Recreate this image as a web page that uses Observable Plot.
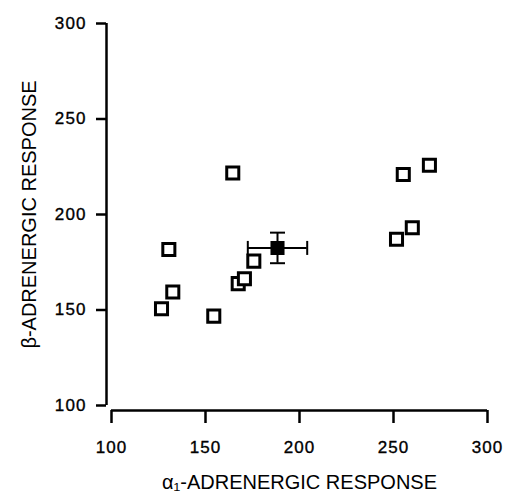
<!DOCTYPE html>
<html>
<head>
<meta charset="utf-8">
<script src="https://cdn.jsdelivr.net/npm/d3@7"></script>
<script src="https://cdn.jsdelivr.net/npm/@observablehq/plot@0.6"></script>
<style>
  html, body { margin: 0; padding: 0; background: #fff; }
  svg [aria-label$="tick label"] text { letter-spacing: 1.1px; stroke: #000; stroke-width: 0.35px; }
  svg [aria-label="axis title"] text { letter-spacing: 0.6px; stroke: #000; stroke-width: 0.35px; }
</style>
</head>
<body>
<div id="chart"></div>
<script>
// Individual subjects (open squares)
const alphaResponse = [164.5, 130.5, 175.7, 167.4, 170.7, 126.6, 132.6, 154.4, 255.2, 269.1, 260.0, 251.6];
const betaResponse  = [221.7, 181.7, 175.6, 163.8, 166.4, 150.7, 159.4, 146.8, 220.9, 225.8, 193.1, 187.0];

// Group mean ± SEM (filled square)
const meanAlpha = [188.3];
const meanBeta  = [182.5];
const semAlpha  = [15.8];
const semBeta   = [8.0];

// Axes
const xTicks = [100, 150, 200, 250, 300];
const yTicks = [100, 150, 200, 250, 300];
const xTitle = ["α₁-ADRENERGIC RESPONSE"];
const yTitle = ["β-ADRENERGIC RESPONSE"];

const subjects = alphaResponse.map((a, i) => ({alpha: a, beta: betaResponse[i]}));
const mean = meanAlpha.map((a, i) => ({alpha: a, beta: meanBeta[i], sa: semAlpha[i], sb: semBeta[i]}));

const capVertical = {draw(ctx) { ctx.moveTo(0, -7); ctx.lineTo(0, 7); }};
const capHorizontal = {draw(ctx) { ctx.moveTo(-7.5, 0); ctx.lineTo(7.5, 0); }};

const xMin = d3.min(xTicks), xMax = d3.max(xTicks);
const yMin = d3.min(yTicks), yMax = d3.max(yTicks);

const chart = Plot.plot({
  width: 506,
  height: 500,
  marginLeft: 111,
  marginRight: 19,
  marginTop: 23,
  marginBottom: 95,
  style: {fontFamily: "'Liberation Sans', Arial, Helvetica, sans-serif", fontSize: "17px", color: "#000", background: "#fff"},
  x: {domain: [xMin, xMax]},
  y: {domain: [yMin, yMax]},
  marks: [
    // axis lines (detached)
    Plot.ruleX([xMin], {y1: yMin, y2: yMax, dx: -5, stroke: "#000", strokeWidth: 2.5}),
    Plot.ruleY([yMin], {x1: xMin, x2: xMax, dy: 5, stroke: "#000", strokeWidth: 2.5}),
    Plot.axisY(yTicks, {tickSize: 10, tickPadding: 10, dx: -5, strokeWidth: 2.5, label: null, fontSize: 17, tickFormat: d => String(d)}),
    Plot.axisX(xTicks, {tickSize: 13, tickPadding: 17, dy: 5, strokeWidth: 2.5, label: null, fontSize: 17, tickFormat: d => String(d)}),
    // subjects
    Plot.dot(subjects, {x: "alpha", y: "beta", symbol: "square", r: 6.8, fill: "#fff", stroke: "#000", strokeWidth: 3}),
    // error bars
    Plot.ruleY(mean, {y: "beta", x1: d => d.alpha - d.sa, x2: d => d.alpha + d.sa, stroke: "#000", strokeWidth: 2}),
    Plot.ruleX(mean, {x: "alpha", y1: d => d.beta - d.sb, y2: d => d.beta + d.sb, stroke: "#000", strokeWidth: 2}),
    Plot.dot(mean, {x: d => d.alpha - d.sa, y: "beta", symbol: capVertical, fill: "none", stroke: "#000", strokeWidth: 2}),
    Plot.dot(mean, {x: d => d.alpha + d.sa, y: "beta", symbol: capVertical, fill: "none", stroke: "#000", strokeWidth: 2}),
    Plot.dot(mean, {x: "alpha", y: d => d.beta - d.sb, symbol: capHorizontal, fill: "none", stroke: "#000", strokeWidth: 2}),
    Plot.dot(mean, {x: "alpha", y: d => d.beta + d.sb, symbol: capHorizontal, fill: "none", stroke: "#000", strokeWidth: 2}),
    Plot.dot(mean, {x: "alpha", y: "beta", symbol: "square", r: 6.8, fill: "#000", stroke: "#000", strokeWidth: 2}),
    // axis titles
    Plot.text(yTitle, {text: d => d, ariaLabel: "axis title", frameAnchor: "left", textAnchor: "middle", lineAnchor: "middle", rotate: -90, dx: -82, fontSize: 20, fill: "#000"}),
    Plot.text(xTitle, {text: d => d, ariaLabel: "axis title", frameAnchor: "bottom", textAnchor: "middle", lineAnchor: "middle", dy: 77, fontSize: 20, fill: "#000"})
  ]
});
document.getElementById("chart").appendChild(chart);
</script>
</body>
</html>
